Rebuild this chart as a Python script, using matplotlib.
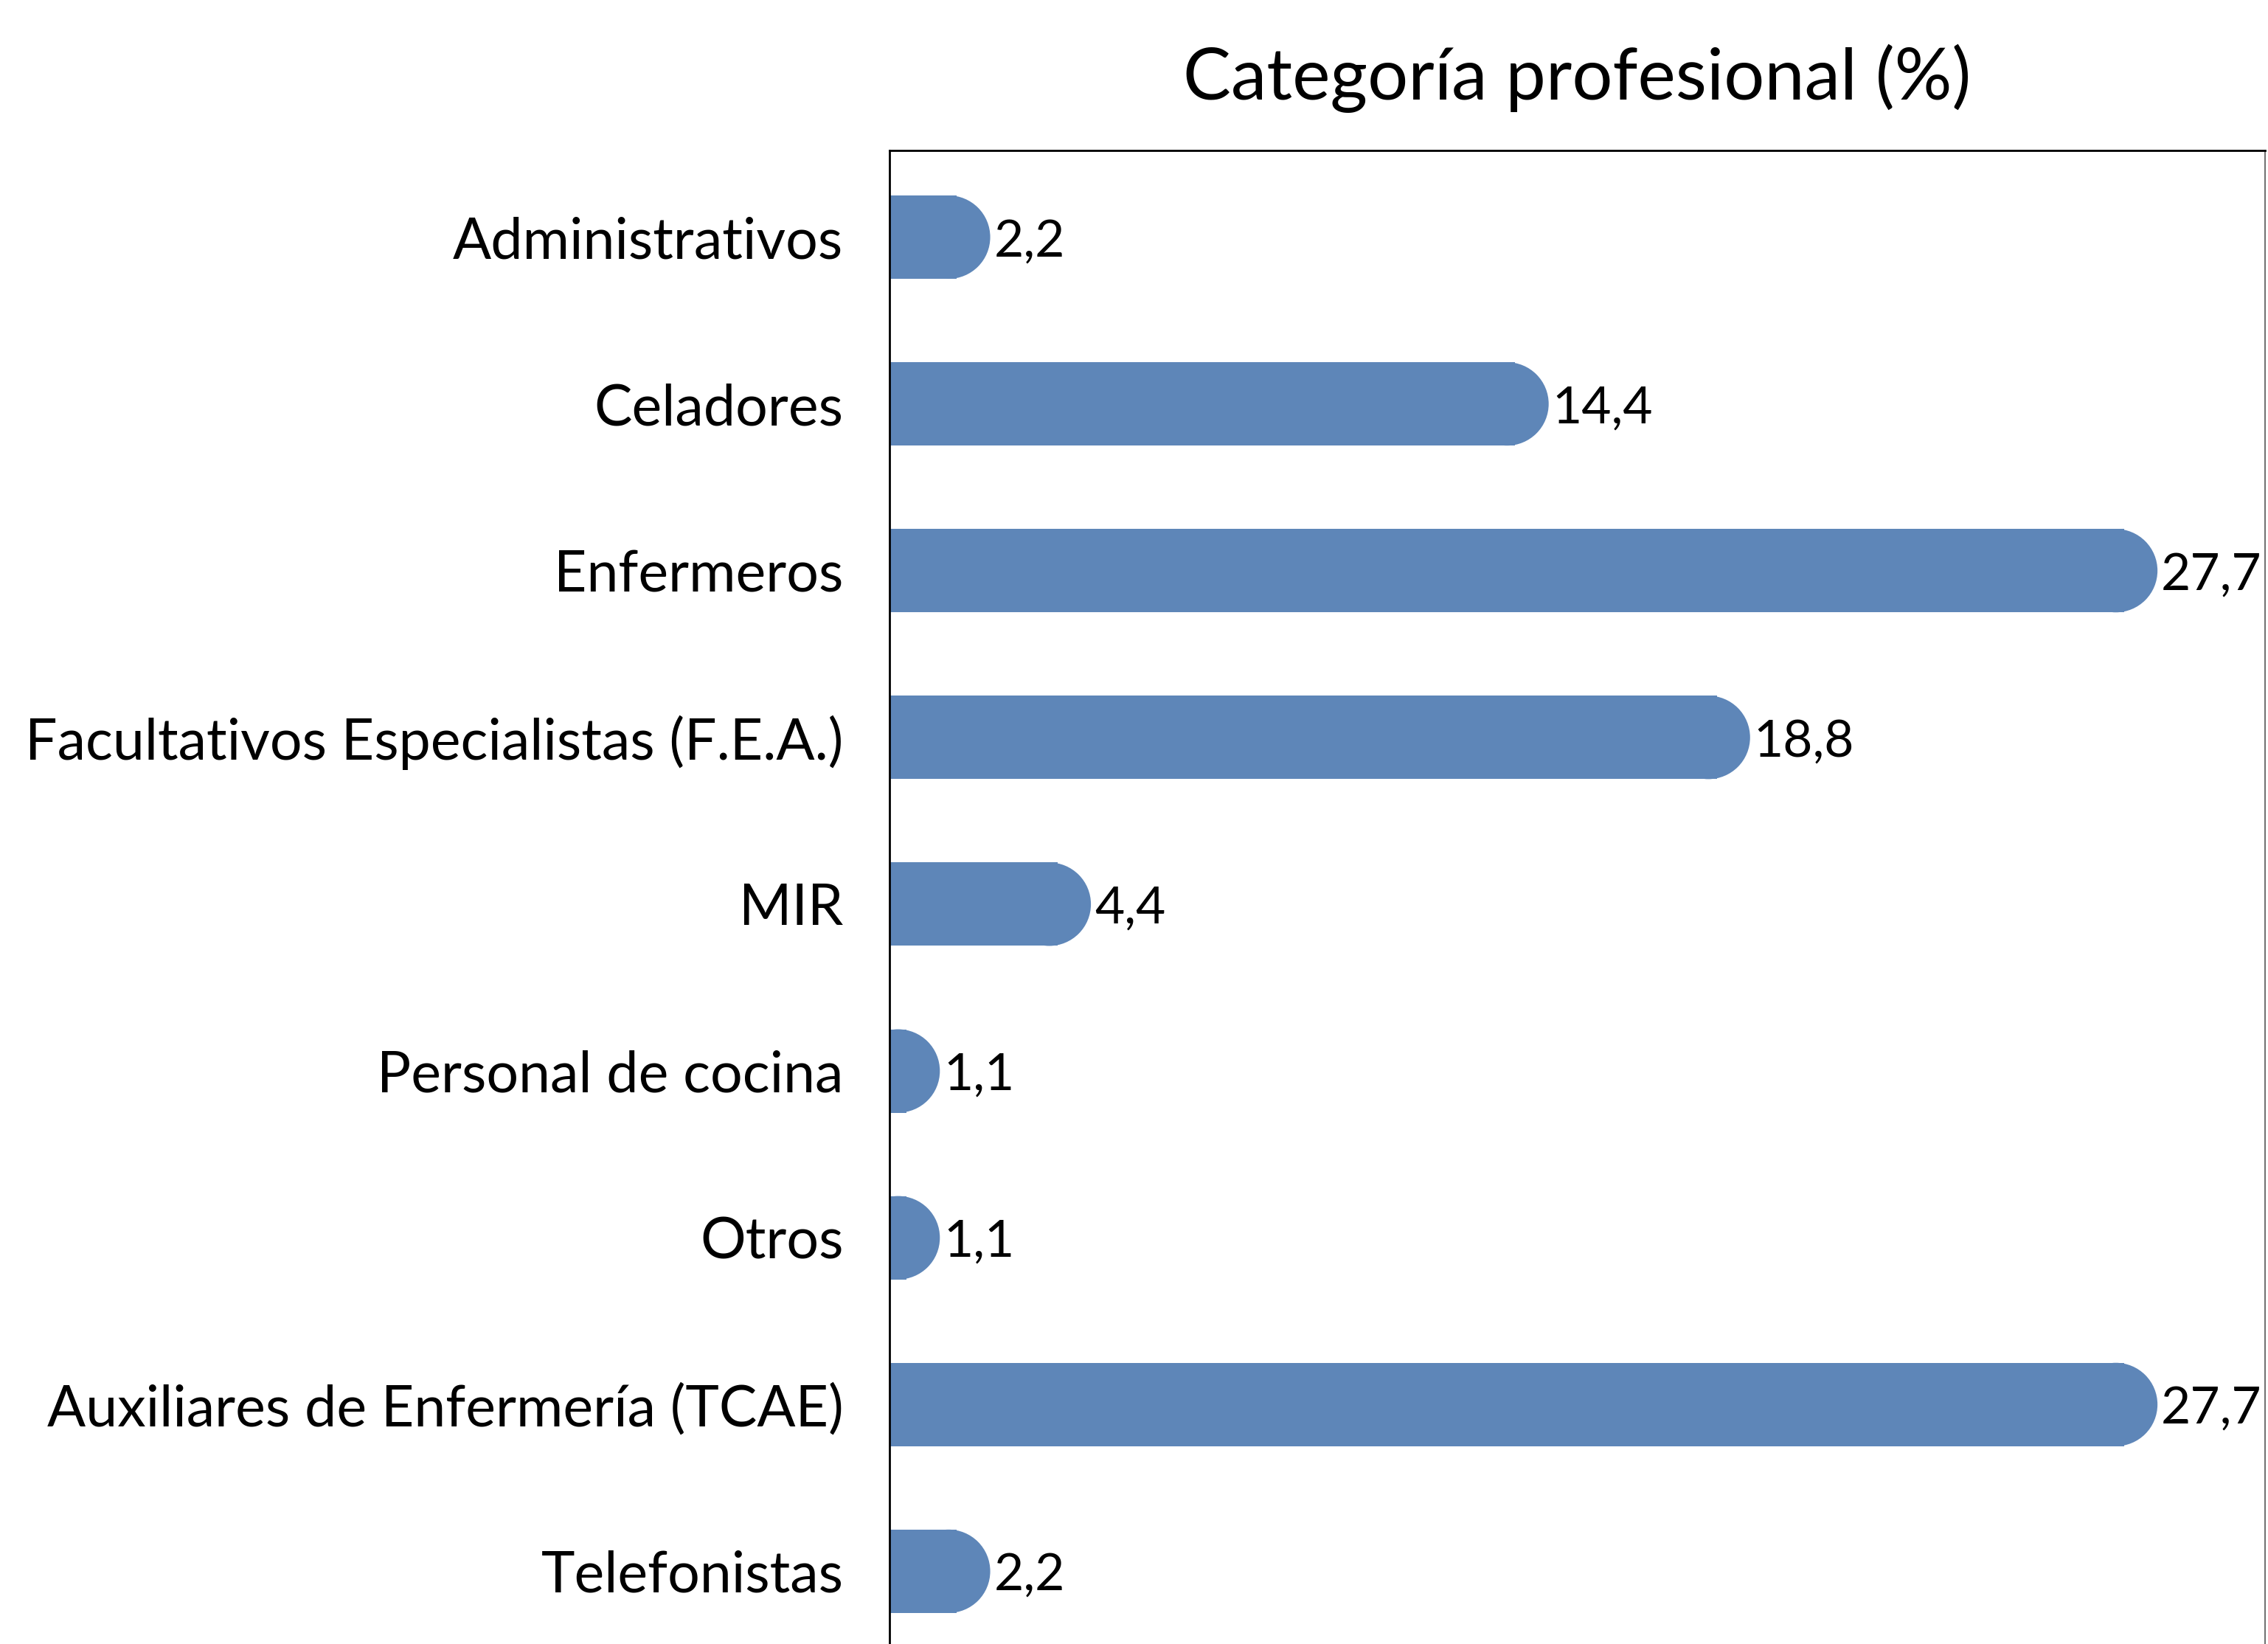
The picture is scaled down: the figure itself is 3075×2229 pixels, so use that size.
import matplotlib
matplotlib.use("Agg")
import matplotlib.pyplot as plt
from matplotlib.patches import Ellipse

categories = [
    "Administrativos",
    "Celadores",
    "Enfermeros",
    "Facultativos Especialistas (F.E.A.)",
    "MIR",
    "Personal de cocina",
    "Otros",
    "Auxiliares de Enfermería (TCAE)",
    "Telefonistas",
]
values = [2.2, 14.4, 27.7, 18.8, 4.4, 1.1, 1.1, 27.7, 2.2]
title = "Categoría profesional (%)"

BAR_COLOR = "#5E86B8"

plt.rcParams["font.family"] = ["Lato", "DejaVu Sans"]

fig = plt.figure(figsize=(30.75, 22.29), dpi=100)
ax = fig.add_axes([0.3922, -0.0085, 0.6065, 0.917])

ys = list(range(len(categories)))
bar_h = 0.5
xmax = 30.05
ax.set_xlim(0, xmax)
ax.set_ylim(len(categories) - 0.48, -0.52)

# cap radius in data units (half the bar height, in pixels -> x data)
fig.canvas.draw()
px_per_x = ax.transData.transform((1, 0))[0] - ax.transData.transform((0, 0))[0]
px_per_y = abs(ax.transData.transform((0, 1))[1] - ax.transData.transform((0, 0))[1])
r = bar_h * px_per_y / 2 / px_per_x

for y, v in zip(ys, values):
    flat = max(v - r, 0)
    # slight overlap so no seam shows between the flat part and the round cap
    ax.barh(y, flat + r * 0.2, height=bar_h, color=BAR_COLOR, linewidth=0)
    cap = Ellipse((v - r, y), 2 * r, bar_h, facecolor=BAR_COLOR, edgecolor="none")
    ax.add_patch(cap)
    ax.text(v + 0.08, y, f"{v:.1f}".replace(".", ","), va="center_baseline", ha="left",
            fontsize=50, color="black")

ax.set_yticks(ys)
ax.set_yticklabels(categories, fontsize=55.5)
ax.tick_params(axis="y", length=0, pad=45)
ax.set_xticks([])

ax.spines["bottom"].set_visible(False)
for s in ("top", "left"):
    ax.spines[s].set_linewidth(2.0)
    ax.spines[s].set_color("black")
ax.spines["right"].set_linewidth(1.2)
ax.spines["right"].set_color("#555555")

ax.set_title(title, fontsize=70, pad=50)

fig.savefig("out.png", dpi=100)
